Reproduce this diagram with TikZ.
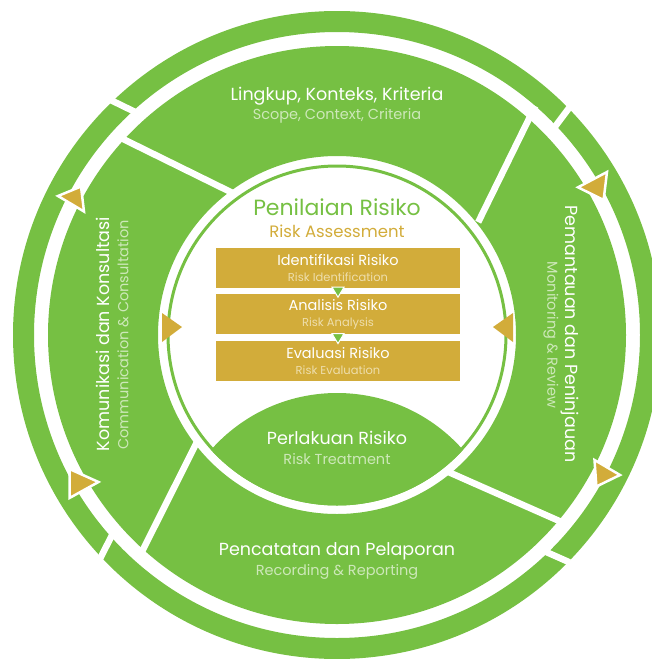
\documentclass[tikz,border=0pt]{standalone}
\usepackage{fontspec}
\setmainfont{Poppins}
\usetikzlibrary{positioning}
\definecolor{ringgreen}{RGB}{118,192,67}
\definecolor{gold}{RGB}{210,172,58}
\definecolor{palegreen}{RGB}{205,232,185}
\definecolor{palegold}{RGB}{238,222,172}

\begin{document}
\begin{tikzpicture}[
  x=1pt, y=-1pt,
  ring/.style={fill=ringgreen, even odd rule},
  cut/.style={draw=white, line width=6.5pt},
  maintext/.style={text=white, font=\fontsize{17.5}{19}\selectfont, inner sep=0pt},
  subtext/.style={text=palegreen, font=\fontsize{14.5}{16}\selectfont, inner sep=0pt},
  box/.style={fill=gold, text=white, minimum width=244pt, minimum height=40pt, inner sep=0pt,
    align=center, font=\fontsize{14.5}{16}\selectfont},
  tip/.style={fill=gold, draw=white, line width=2.5pt},
  pointer/.style={fill=gold},
  steptip/.style={fill=ringgreen, draw=white, line width=1pt}
]
\useasboundingbox (0,0) rectangle (652,659);
\clip (0,0) rectangle (652,659);
\coordinate (c) at (337,335);

% outer ring and its cuts
\fill[ring] (c) circle (324) (c) circle (303);
\draw[cut] (110.8,100.1) -- (143.2,115.9);
\draw[cut] (573.8,101.6) -- (552.2,130.4);
\draw[cut] (98.9,561) -- (115.1,529);
\draw[cut] (569.5,562.3) -- (536.5,547.7);

% middle ring with the four sectors
\fill[ring] (c) circle (289) (c) circle (179);
\draw[cut] (114.5,134.8) -- (233.9,193.6);
\draw[cut] (535.2,106.1) -- (478.2,222.2);
\draw[cut] (199.0,437.8) -- (141.9,551.9);
\draw[cut] (445.7,470.8) -- (564.3,523.2);

% inner circle and treatment lens
\draw[ringgreen, line width=3pt] (c) circle (169);
\begin{scope}
  \clip (c) circle (170.5);
  \fill[ringgreen] (337,561) circle (168);
\end{scope}

% arrows on the outer loop
\path[tip] (58,196) -- (81,186.5) -- (84,211.5) -- cycle;
\path[tip] (69.5,469) -- (98.5,482) -- (69.5,498) -- cycle;
\path[tip] (578,187.3) -- (607,172) -- (603.6,200) -- cycle;
\path[tip] (594.5,460) -- (620,475) -- (596.4,486.5) -- cycle;

% arrows into the assessment
\path[pointer] (162,313) -- (182,327) -- (162,342) -- cycle;
\path[pointer] (513,313) -- (493,327) -- (513,342) -- cycle;

% risk assessment
\node[text=ringgreen, font=\fontsize{22}{24}\selectfont, inner sep=0pt] (penilaian) at (337,207) {Penilaian Risiko};
\node[text=gold, font=\fontsize{16.5}{18}\selectfont, inner sep=0pt] (assessment) at (337,231) {Risk Assessment};
\node[box] (ident) at (338,268) {Identifikasi Risiko\\[0pt]{\fontsize{11.5}{13}\selectfont\color{palegold}Risk Identification}};
\node[box, below=6pt of ident] (analisis) {Analisis Risiko\\[0pt]{\fontsize{11.5}{13}\selectfont\color{palegold}Risk Analysis}};
\node[box, below=6pt of analisis] (evaluasi) {Evaluasi Risiko\\[0pt]{\fontsize{11.5}{13}\selectfont\color{palegold}Risk Evaluation}};
\path[steptip] (ident.south) ++(-6,-1) -- ++(12,0) -- ++(-6,10) -- cycle;
\path[steptip] (analisis.south) ++(-6,-1) -- ++(12,0) -- ++(-6,10) -- cycle;

% sector labels
\node[maintext] (lingkup) at (337,96) {Lingkup, Konteks, Kriteria};
\node[subtext] (scope) at (337,116) {Scope, Context, Criteria};
\node[maintext] (perlakuan) at (337,438) {Perlakuan Risiko};
\node[subtext] (treatment) at (337,459) {Risk Treatment};
\node[maintext] (pencatatan) at (337,551) {Pencatatan dan Pelaporan};
\node[subtext] (recording) at (337,572) {Recording \& Reporting};
\node[maintext, rotate=90] (komunikasi) at (103,334) {Komunikasi dan Konsultasi};
\node[subtext, rotate=90] (communication) at (123,335) {Communication \& Consultation};
\node[maintext, rotate=-90] (pemantauan) at (570,334) {Pemantauan dan Peninjauan};
\node[subtext, rotate=-90] (monitoring) at (551,335) {Monitoring \& Review};
\end{tikzpicture}
\end{document}
